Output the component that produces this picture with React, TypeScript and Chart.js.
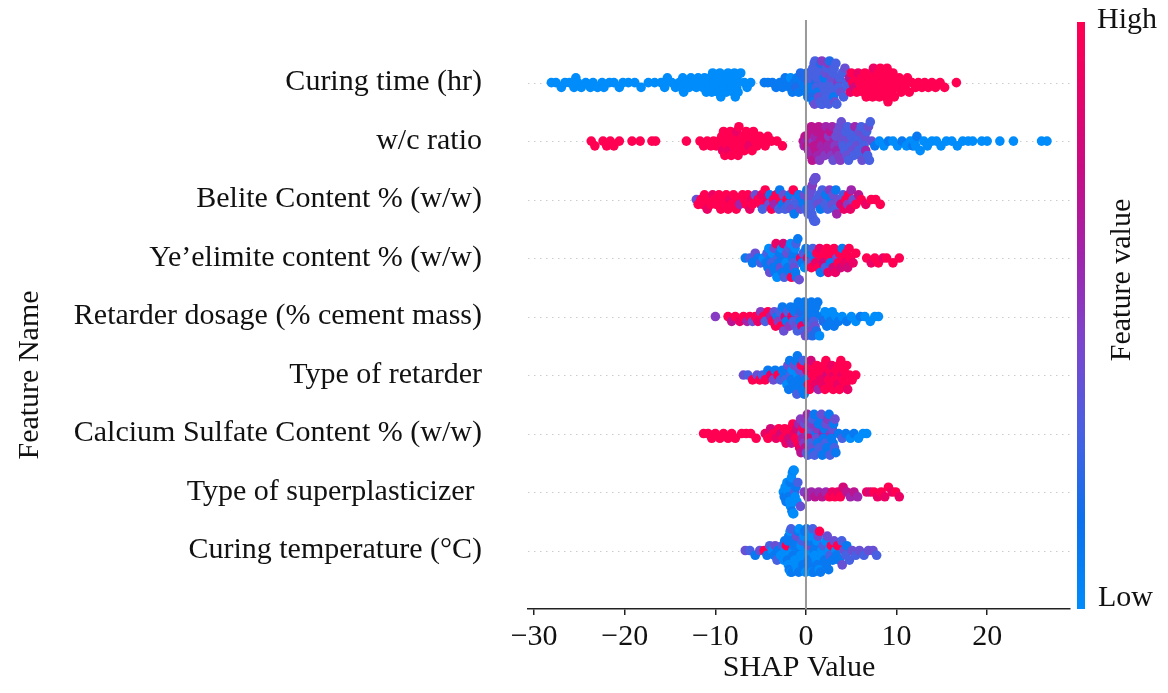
import React, { useEffect, useRef } from 'react';
import { Chart, registerables } from 'chart.js';

Chart.register(...registerables);

const FONT = "'Liberation Serif', 'Times New Roman', serif";

const featureNames = [
  'Curing time (hr)',
  'w/c ratio',
  'Belite Content % (w/w)',
  'Ye\u2019elimite content % (w/w)',
  'Retarder dosage (% cement mass)',
  'Type of retarder',
  'Calcium Sulfate Content % (w/w)',
  'Type of superplasticizer ',
  'Curing temperature (\u00B0C)',
];

const xTicks = [-30, -20, -10, 0, 10, 20];
const xMin = -30.68;
const xMax = 29.14;

// [SHAP value, feature value (0 = low ... 10 = high)]
const curingTime = [
  [-28.1,0],[-27.6,0],[-27.0,0],[-26.6,0],
  [-26.1,0],[-25.6,0],[-25.4,0],[-25.2,0],[-24.8,0],
  [-24.3,0],[-23.8,0],[-23.5,0],[-23.0,0],[-22.5,0],[-22.3,0],[-21.7,0],[-21.2,0],[-20.6,0],[-20.2,0],
  [-19.6,0],[-18.9,0],[-18.2,0],[-17.4,0],[-16.7,0],
  [-16.0,0],[-15.7,0],[-15.6,0],[-15.3,0],[-14.8,0],[-14.4,0],
  [-14.0,0],[-13.8,0],[-13.6,0],[-13.5,0],[-13.2,0],[-12.9,0],[-12.7,0],[-12.4,0],[-12.1,0],[-11.9,0],[-11.6,0],[-11.4,0],[-11.2,0],
  [-11.0,0],[-10.9,0],[-10.7,0],[-10.6,0],[-10.4,0],[-10.3,0],[-10.1,0],[-10.0,0],[-9.8,0],[-9.7,0],[-9.5,0],[-9.4,0],[-9.2,0],
  [-9.1,0],[-8.9,0],[-8.8,0],[-8.6,0],[-8.5,0],[-8.3,0],[-8.2,0],[-8.0,0],[-7.9,0],[-7.8,0],[-7.7,0],[-7.65,0],[-7.6,0],[-7.5,0],
  [-7.2,0],[-6.8,0],[-6.5,0],[-6.1,0],
  [-4.6,1],[-4.2,1],[-3.7,1],[-3.3,1],[-2.9,1],[-2.6,1],[-2.3,1],
  [-2.0,1],[-1.8,1],[-1.7,0],[-1.5,1],[-1.3,1],[-1.1,2],[-1.0,1],[-0.8,1],[-0.6,2],[-0.4,1],[-0.2,1],[-0.1,2],
  [0.0,1],[0.1,2],[0.2,1],[0.3,3],[0.4,1],
  [0.5,3],[0.55,1],[0.6,3],[0.7,2],[0.75,3],[0.8,1],[0.9,3],[0.95,4],[1.0,3],[1.1,2],[1.15,3],[1.2,3],[1.3,1],[1.35,3],[1.4,4],[1.5,3],[1.55,3],
  [1.6,2],[1.7,3],[1.75,5],[1.8,3],[1.9,3],[1.95,3],[2.0,1],[2.1,3],[2.15,4],[2.2,3],[2.3,3],[2.4,3],[2.45,5],[2.5,3],[2.6,2],[2.7,3],[2.75,3],
  [2.8,4],[2.9,3],[3.0,3],[3.05,1],[3.1,3],[3.2,4],[3.3,3],[3.4,3],[3.5,5],[3.6,3],[3.7,3],[3.85,4],[4.0,3],[4.15,3],[4.3,4],[4.45,3],[4.6,3],
  [4.8,7],[4.9,9],[5.0,10],[5.15,10],[5.3,8],[5.45,10],[5.6,10],[5.75,9],[5.9,10],[6.05,10],[6.2,10],[6.35,10],[6.5,10],[6.65,10],[6.8,10],[6.95,10],
  [7.05,10],[7.15,10],[7.25,10],[7.35,10],[7.45,9],[7.55,10],[7.7,10],[7.8,10],[7.9,10],[8.0,10],[8.1,10],[8.2,10],[8.35,10],[8.45,10],
  [8.55,10],[8.65,10],[8.75,10],[8.85,10],[8.95,10],[9.05,10],[9.15,10],[9.25,10],[9.35,10],[9.45,10],[9.6,10],[9.75,10],[9.9,10],
  [10.05,10],[10.3,10],[10.5,10],[10.75,10],[10.95,10],[11.2,10],[11.4,10],
  [11.7,10],[12.1,10],[12.4,10],[12.8,10],[13.1,10],[13.5,10],[13.9,10],[14.3,10],
  [14.8,10],[15.3,10],[16.6,10],
];

const wcRatio = [
  [-23.7,10],[-23.3,10],[-22.4,10],[-22.0,10],[-21.6,10],[-21.2,10],[-20.6,10],[-19.2,10],[-18.3,10],[-17.0,10],[-16.6,10],[-13.2,10],
  [-11.7,10],[-11.3,10],[-10.9,10],
  [-10.5,10],[-10.2,10],[-9.9,10],[-9.6,10],
  [-9.45,10],[-9.3,10],[-9.2,9],[-9.1,10],[-8.95,10],[-8.85,10],[-8.7,10],[-8.6,10],[-8.5,9],[-8.35,10],
  [-8.25,10],[-8.1,10],[-8.0,10],[-7.9,10],[-7.75,10],[-7.65,9],[-7.5,10],[-7.4,10],[-7.25,10],[-7.1,10],
  [-6.95,10],[-6.8,10],[-6.6,10],[-6.45,10],[-6.3,9],[-6.1,10],[-5.95,10],[-5.8,10],[-5.6,10],
  [-5.4,10],[-5.1,10],[-4.8,10],[-4.5,10],[-4.2,10],
  [-3.8,10],[-3.2,10],[-2.6,10],
  [-0.3,7],[-0.2,6],[-0.1,7],[0.0,6],[0.1,7],[0.2,7],[0.3,6],[0.4,7],[0.5,6],[0.6,7],[0.7,7],[0.8,5],[0.9,7],[1.0,6],[1.1,7],
  [1.2,7],[1.3,6],[1.4,7],[1.5,5],[1.6,7],[1.7,6],[1.8,7],[1.9,6],[2.0,7],[2.1,5],[2.2,6],[2.3,7],[2.4,6],[2.5,5],[2.6,6],
  [2.7,7],[2.8,5],[2.9,6],[3.0,4],[3.1,6],[3.2,5],[3.3,4],[3.4,6],[3.5,4],[3.6,5],[3.7,4],[3.8,5],[3.9,4],[4.0,4],
  [4.1,3],[4.2,4],[4.3,3],[4.4,3],[4.5,4],[4.6,3],[4.7,3],[4.8,4],[4.9,3],[5.0,3],[5.1,4],[5.2,3],[5.3,3],[5.4,6],[5.5,3],[5.6,4],
  [5.7,3],[5.8,3],[5.9,4],[6.0,3],[6.1,3],[6.2,4],[6.3,3],[6.4,3],[6.5,4],[6.6,6],[6.7,3],[6.8,3],[6.9,4],[7.0,3],[7.1,3],[7.25,4],
  [7.6,1],[8.1,0],[8.6,0],[9.1,1],[9.6,0],[10.1,0],[10.6,1],[11.1,0],[11.5,0],[11.8,1],[11.95,0],[12.1,0],[12.25,1],[12.6,0],
  [13.0,0],[13.4,0],[13.9,0],[14.4,0],[14.9,0],[15.5,0],[16.1,0],[16.7,0],[17.3,0],[17.9,0],[18.4,0],[19.4,0],[20.0,0],[21.4,0],
  [22.9,0],[26.0,0],[26.6,0],
];

const beliteContent = [
  [-12.1,4],[-11.9,10],[-11.6,10],[-11.4,10],[-11.2,10],[-10.9,9],[-10.7,10],[-10.5,10],[-10.3,9],[-10.1,10],[-9.9,10],
  [-9.6,10],[-9.4,10],[-9.2,10],[-9.0,10],[-8.8,10],[-8.6,10],[-8.4,9],[-8.2,10],[-8.0,10],[-7.7,10],[-7.5,10],[-7.3,6],
  [-7.0,10],[-6.8,10],[-6.6,10],[-6.4,10],[-6.2,9],[-6.0,9],[-5.9,10],
  [-5.6,4],[-5.3,10],[-5.0,10],[-4.9,9],[-4.8,3],[-4.5,10],[-4.3,9],[-4.1,4],[-4.0,1],[-3.8,10],[-3.6,10],[-3.5,6],[-3.3,10],[-3.0,3],[-2.9,1],[-2.8,10],
  [-2.6,1],[-2.5,4],[-2.3,3],[-2.1,10],[-1.9,3],[-1.8,1],[-1.6,4],[-1.4,10],[-1.3,1],[-1.1,3],[-0.9,3],[-0.8,1],[-0.6,4],[-0.4,1],[-0.3,1],[-0.2,4],[-0.1,3],[0.1,1],
  [0.25,3],[0.3,4],[0.4,3],[0.45,4],[0.5,3],[0.6,4],[0.65,3],[0.7,5],[0.8,3],[0.85,4],[0.9,3],[1.0,4],[1.05,3],[1.1,4],[1.2,3],[1.3,4],[1.45,3],
  [1.6,1],[1.8,3],[2.0,4],[2.1,3],[2.2,1],[2.4,3],[2.6,5],[2.8,1],[2.9,4],[3.0,4],[3.2,3],[3.3,1],[3.4,6],[3.6,4],
  [3.85,8],[4.1,3],[4.2,9],[4.4,10],[4.6,5],[4.7,10],[4.9,9],[5.0,6],[5.2,4],[5.5,10],[5.8,7],
  [6.1,10],[6.6,9],[7.2,10],[7.7,10],[8.2,10],
];

const yeelimiteContent = [
  [-6.7,1],
  [-6.2,3],[-5.9,1],[-5.6,4],[-5.3,1],[-5.0,3],[-4.7,0],[-4.4,1],
  [-4.3,3],[-4.2,1],[-4.1,0],[-4.0,4],[-3.9,1],[-3.8,3],[-3.7,0],[-3.6,1],[-3.5,4],[-3.4,1],[-3.3,9],[-3.2,0],
  [-3.1,3],[-3.0,1],[-2.9,1],[-2.8,4],[-2.7,0],[-2.6,1],[-2.5,8],[-2.4,3],[-2.3,1],[-2.2,0],[-2.1,4],[-2.0,1],
  [-1.9,3],[-1.8,1],[-1.7,0],[-1.6,10],[-1.5,1],[-1.4,3],[-1.35,1],[-1.3,4],[-1.2,0],[-1.15,1],[-1.1,3],[-1.05,1],
  [-0.9,1],[-0.75,4],[-0.6,9],[-0.45,1],[-0.3,3],[-0.15,0],[0.0,1],[0.15,8],[0.3,4],[0.45,1],[0.6,10],[0.75,3],[0.9,1],[1.05,9],[1.2,10],
  [1.35,10],[1.5,9],[1.6,1],[1.75,10],[1.9,8],[2.0,10],[2.15,3],[2.3,10],[2.45,9],[2.6,10],[2.7,1],[2.85,10],[3.0,8],
  [3.1,10],[3.25,9],[3.4,4],[3.55,10],[3.7,10],[3.85,8],[4.0,1],[4.15,10],[4.3,9],[4.45,10],[4.6,8],[4.75,10],[4.9,10],
  [5.2,9],[5.5,10],
  [6.7,10],[7.2,9],[7.6,10],[8.0,10],[8.5,9],[8.9,10],[9.6,10],[10.3,10],
];

const retarderDosage = [
  [-10.0,5],
  [-8.6,10],[-8.2,7],[-7.8,10],[-7.3,9],[-6.9,10],
  [-6.5,6],[-6.2,10],[-5.9,4],[-5.6,10],[-5.3,9],[-5.0,5],[-4.7,10],[-4.5,3],[-4.2,10],[-3.9,6],[-3.7,10],
  [-3.5,4],[-3.35,10],[-3.2,1],[-3.05,5],[-2.9,3],[-2.75,10],[-2.6,1],[-2.45,4],[-2.3,8],[-2.15,1],[-2.0,3],[-1.85,5],
  [-1.7,1],[-1.55,9],[-1.4,3],[-1.25,1],[-1.15,4],[-1.05,1],
  [-0.95,3],[-0.85,1],[-0.75,4],[-0.65,1],[-0.55,2],[-0.45,9],[-0.35,1],[-0.25,3],[-0.15,1],[-0.05,4],[0.05,1],[0.15,2],
  [0.25,1],[0.35,3],[0.45,1],[0.5,4],[0.6,1],[0.7,2],[0.8,1],[0.85,3],[0.95,1],[1.0,4],[1.1,1],[1.15,2],
  [1.3,1],[1.5,0],[1.7,1],[1.9,2],[2.1,0],[2.3,1],[2.5,0],[2.7,1],[2.9,0],[3.1,1],[3.3,0],
  [3.6,1],[4.0,0],[4.5,1],[5.0,0],[5.5,0],[6.0,1],[6.5,0],[7.1,0],[7.6,0],[8.0,0],
];

const retarderType = [
  [-6.9,4],[-6.4,3],[-5.9,10],[-5.4,4],
  [-5.1,10],[-4.8,3],[-4.5,10],[-4.2,1],[-3.9,9],[-3.6,4],[-3.4,1],[-3.1,10],[-2.8,3],[-2.6,1],
  [-2.4,1],[-2.3,3],[-2.2,1],[-2.1,0],[-2.0,4],[-1.9,1],[-1.8,1],[-1.7,3],[-1.6,1],[-1.5,0],[-1.4,1],[-1.3,4],[-1.2,1],
  [-1.1,1],[-1.0,3],[-0.95,1],[-0.9,0],[-0.8,1],[-0.7,4],[-0.6,1],[-0.5,10],[-0.4,1],[-0.3,3],[-0.2,1],[-0.1,4],[-0.05,1],
  [0.1,9],[0.25,10],[0.3,10],[0.4,10],[0.55,8],[0.7,10],[0.85,10],[0.9,10],[1.0,9],[1.2,10],[1.35,6],[1.5,10],[1.6,9],[1.7,10],[1.85,9],[2.0,10],
  [2.1,10],[2.2,10],[2.35,8],[2.5,10],[2.6,10],[2.7,10],[2.85,9],[3.0,10],[3.1,9],[3.2,10],[3.35,10],[3.5,9],[3.6,10],[3.7,10],[3.85,10],
  [4.0,9],[4.1,10],[4.2,10],[4.4,10],[4.5,10],[4.6,9],[4.8,10],
  [5.1,10],[5.5,10],
];

const calciumSulfate = [
  [-11.3,10],[-10.8,10],[-10.4,10],[-10.0,10],[-9.5,10],[-9.1,10],[-8.6,10],[-8.2,10],[-7.8,10],
  [-7.1,10],[-6.6,10],[-6.1,10],[-5.5,10],
  [-4.5,9],[-4.2,10],[-3.9,8],[-3.6,10],[-3.3,9],[-3.0,10],[-2.75,8],[-2.5,10],
  [-2.35,10],[-2.2,9],[-2.05,10],[-1.9,8],[-1.75,10],[-1.6,7],[-1.45,10],[-1.3,9],[-1.15,10],[-1.0,8],[-0.9,10],[-0.8,6],
  [-0.7,9],[-0.6,5],[-0.55,7],[-0.45,4],[-0.4,6],[-0.3,10],[-0.25,5],[-0.15,4],[-0.1,7],[0.0,5],
  [0.05,4],[0.15,6],[0.2,3],[0.3,5],[0.35,8],[0.45,4],[0.5,3],[0.6,5],[0.65,4],[0.75,3],
  [0.85,1],[0.9,1],[0.95,3],[1.1,1],[1.15,4],[1.2,5],[1.3,1],[1.4,1],[1.45,3],[1.55,1],[1.65,3],[1.7,4],[1.8,1],[1.9,6],[1.95,1],[2.05,1],
  [2.15,3],[2.2,4],[2.3,1],[2.4,5],[2.5,1],[2.55,1],[2.65,3],[2.75,5],[2.8,1],[2.9,4],[3.0,1],[3.05,1],[3.15,3],[3.2,4],[3.3,1],
  [3.6,1],[4.0,3],[4.4,1],[4.9,0],[5.3,1],[5.8,0],[6.3,0],[6.7,0],
];

const superplasticizerType = [
  [-2.5,0],[-2.4,1],[-2.3,0],[-2.2,1],[-2.1,0],[-2.0,0],[-1.95,1],[-1.9,0],[-1.8,0],[-1.75,1],[-1.7,0],[-1.6,0],
  [-1.55,1],[-1.5,0],[-1.45,0],[-1.4,1],[-1.35,0],[-1.3,0],[-1.25,3],[-1.2,0],[-1.1,1],[-1.0,0],[-0.9,3],
  [-0.6,4],[-0.2,5],[0.2,6],[0.6,6],[1.0,7],[1.4,6],[1.8,7],[2.2,6],[2.6,10],[2.9,9],[3.2,10],[3.5,9],[3.8,10],
  [4.1,8],[4.5,7],[4.9,6],[5.3,7],[5.7,6],
  [6.7,9],[7.1,8],[7.5,10],[7.9,9],[8.3,10],[8.7,9],[9.1,10],[9.5,9],[9.9,10],[10.3,9],
];

const curingTemperature = [
  [-6.7,4],[-6.2,3],[-5.6,1],[-5.1,4],[-4.6,10],
  [-4.3,1],[-4.0,3],[-3.7,0],[-3.5,1],[-3.4,4],[-3.2,3],[-3.1,1],[-2.8,0],[-2.6,3],
  [-2.45,0],[-2.35,1],[-2.3,0],[-2.25,0],[-2.15,10],[-2.05,1],[-2.0,1],[-1.95,0],[-1.9,1],[-1.85,1],[-1.75,0],[-1.7,0],[-1.65,3],[-1.55,1],
  [-1.45,0],[-1.4,1],[-1.35,1],[-1.25,0],[-1.15,1],[-1.1,0],[-1.05,4],[-0.95,0],[-0.85,1],[-0.8,1],[-0.75,0],[-0.65,1],[-0.6,0],[-0.55,0],
  [-0.5,0],[-0.45,3],[-0.35,1],[-0.25,0],[-0.2,1],[-0.15,1],[-0.05,0],[0.05,1],[0.1,0],[0.15,0],[0.25,4],[0.3,1],[0.35,1],[0.4,1],[0.45,0],
  [0.55,1],[0.6,0],[0.65,0],[0.75,3],[0.85,1],[0.9,1],[0.95,0],[1.05,1],[1.15,0],[1.2,0],[1.25,1],[1.35,4],[1.45,0],[1.5,10],
  [1.6,1],[1.75,0],[1.8,0],[1.9,3],[2.05,1],[2.2,0],[2.25,1],[2.35,4],[2.5,1],[2.6,0],[2.65,3],[2.8,10],[2.95,1],[3.1,4],[3.3,0],[3.35,1],[3.5,10],
  [3.7,1],[3.95,3],[4.0,4],[4.2,4],[4.4,3],[4.5,1],[4.8,3],[5.1,4],
  [5.5,3],[5.9,4],[6.4,3],[6.9,4],[7.4,4],[7.8,3],
];

const rows = [
  curingTime, wcRatio, beliteContent, yeelimiteContent, retarderDosage,
  retarderType, calciumSulfate, superplasticizerType, curingTemperature,
];

const colorStops: [number, number[]][] = [
  [0.0, [0, 140, 250]],
  [0.15, [12, 112, 236]],
  [0.3, [72, 96, 226]],
  [0.45, [122, 70, 205]],
  [0.6, [160, 36, 172]],
  [0.75, [200, 12, 132]],
  [0.9, [236, 2, 100]],
  [1.0, [255, 0, 82]],
];

function cmap(t: number): string {
  const v = Math.max(0, Math.min(1, t));
  for (let i = 1; i < colorStops.length; i++) {
    const [t1, c1] = colorStops[i];
    const [t0, c0] = colorStops[i - 1];
    if (v <= t1) {
      const f = (v - t0) / (t1 - t0);
      const c = c0.map((a, k) => Math.round(a + (c1[k] - a) * f));
      return `rgb(${c[0]},${c[1]},${c[2]})`;
    }
  }
  return 'rgb(255,0,82)';
}

// beeswarm layout: points sharing a bin are stacked alternately above / below the row line
function swarmOffsets(xs: number[], binWidth = 0.8, step = 0.082, cap = 0.37): number[] {
  const n = xs.length;
  const min = Math.min(...xs);
  const quant = xs.map((x) => Math.round((x - min) / binWidth));
  const order = xs.map((_, i) => i).sort((a, b) => quant[a] - quant[b] || a - b);
  const ys = new Array(n).fill(0);
  let layer = 0;
  let last = -1;
  for (const i of order) {
    if (quant[i] !== last) layer = 0;
    const off = Math.ceil(layer / 2) * ((layer % 2) * 2 - 1) * step;
    ys[i] = Math.max(-cap, Math.min(cap, off));
    layer++;
    last = quant[i];
  }
  return ys;
}

const decor = {
  id: 'shapDecor',
  beforeDatasetsDraw(chart: any) {
    const { ctx, chartArea, scales } = chart;
    ctx.save();
    ctx.strokeStyle = '#cccccc';
    ctx.lineWidth = 1;
    ctx.setLineDash([1.5, 4.5]);
    featureNames.forEach((_, i) => {
      const y = Math.round(scales.y.getPixelForValue(i)) + 0.5;
      ctx.beginPath();
      ctx.moveTo(chartArea.left, y);
      ctx.lineTo(chartArea.right, y);
      ctx.stroke();
    });
    ctx.restore();
  },
  afterDatasetsDraw(chart: any) {
    const { ctx, chartArea, scales } = chart;
    const x = scales.x.getPixelForValue(0);
    ctx.save();
    ctx.strokeStyle = '#999999';
    ctx.lineWidth = 2;
    ctx.beginPath();
    ctx.moveTo(x, chartArea.top);
    ctx.lineTo(x, chartArea.bottom);
    ctx.stroke();
    ctx.restore();
  },
  afterDraw(chart: any) {
    const { ctx } = chart;
    ctx.save();
    const x0 = 1077, x1 = 1085, y0 = 22, y1 = 609;
    const g = ctx.createLinearGradient(0, y1, 0, y0);
    colorStops.forEach(([t, c]) => g.addColorStop(t, `rgb(${c[0]},${c[1]},${c[2]})`));
    ctx.fillStyle = g;
    ctx.fillRect(x0, y0, x1 - x0, y1 - y0);
    ctx.fillStyle = '#111';
    ctx.font = `30px ${FONT}`;
    ctx.textAlign = 'left';
    ctx.textBaseline = 'middle';
    ctx.fillText('High', 1097, 20);
    ctx.fillText('Low', 1098, 598);
    ctx.textAlign = 'center';
    ctx.save();
    ctx.translate(1122, 280);
    ctx.rotate(-Math.PI / 2);
    ctx.fillText('Feature value', 0, 0);
    ctx.restore();
    ctx.save();
    ctx.translate(30, 375);
    ctx.rotate(-Math.PI / 2);
    ctx.fillText('Feature Name', 0, 0);
    ctx.restore();
    ctx.restore();
  },
};

function fmtTick(v: number): string {
  return v < 0 ? '\u2212' + Math.abs(v) : String(v);
}

export default function App() {
  const ref = useRef<HTMLCanvasElement>(null);
  useEffect(() => {
    if (!ref.current) return;
    const points: { x: number; y: number }[] = [];
    const colors: string[] = [];
    rows.forEach((row, r) => {
      const offs = swarmOffsets(row.map((p) => p[0]));
      row.forEach((p, i) => {
        points.push({ x: p[0], y: r + offs[i] });
        colors.push(cmap(p[1] / 10));
      });
    });
    const chart = new Chart(ref.current, {
      type: 'scatter',
      data: {
        datasets: [
          {
            data: points,
            pointRadius: 4.8,
            pointHoverRadius: 4.8,
            pointBackgroundColor: colors,
            pointBorderWidth: 0,
            borderWidth: 0,
          } as any,
        ],
      },
      options: {
        responsive: false,
        animation: false,
        devicePixelRatio: 1,
        events: [],
        layout: { padding: { top: 20, right: 98, left: 0, bottom: 0 } },
        plugins: { legend: { display: false }, tooltip: { enabled: false } },
        scales: {
          x: {
            type: 'linear',
            min: xMin,
            max: xMax,
            afterBuildTicks: (s: any) => {
              s.ticks = xTicks.map((v) => ({ value: v }));
            },
            afterFit: (s: any) => {
              s.height = 84;
            },
            grid: { drawOnChartArea: false, drawTicks: true, tickLength: 6, color: '#222', lineWidth: 1.5 },
            border: { display: true, color: '#222', width: 1.5 },
            ticks: {
              padding: 4,
              color: '#111',
              autoSkip: false,
              maxRotation: 0,
              font: { family: FONT, size: 30 },
              callback: (v: any) => fmtTick(Number(v)),
            },
            title: {
              display: true,
              text: 'SHAP Value',
              color: '#111',
              font: { family: FONT, size: 30, lineHeight: 1 },
              padding: { top: 0, bottom: 10 },
            },
          },
          y: {
            type: 'linear',
            reverse: true,
            min: -1.07,
            max: 9.0,
            afterBuildTicks: (s: any) => {
              s.ticks = featureNames.map((_, i) => ({ value: i }));
            },
            afterFit: (s: any) => {
              s.width = 528;
            },
            grid: { display: true, drawOnChartArea: false, drawTicks: true, tickLength: 46, color: 'rgba(0,0,0,0)' },
            border: { display: false },
            ticks: {
              padding: 0,
              color: '#111',
              autoSkip: false,
              font: { family: FONT, size: 30 },
              callback: (v: any) => featureNames[Number(v)] ?? '',
            },
          },
        },
      } as any,
      plugins: [decor],
    });
    return () => chart.destroy();
  }, []);
  return (
    <div style={{ position: 'absolute', left: 0, top: 0, width: 1168, height: 693, background: '#fff' }}>
      <canvas ref={ref} width={1168} height={693} style={{ width: 1168, height: 693, display: 'block' }} />
    </div>
  );
}
